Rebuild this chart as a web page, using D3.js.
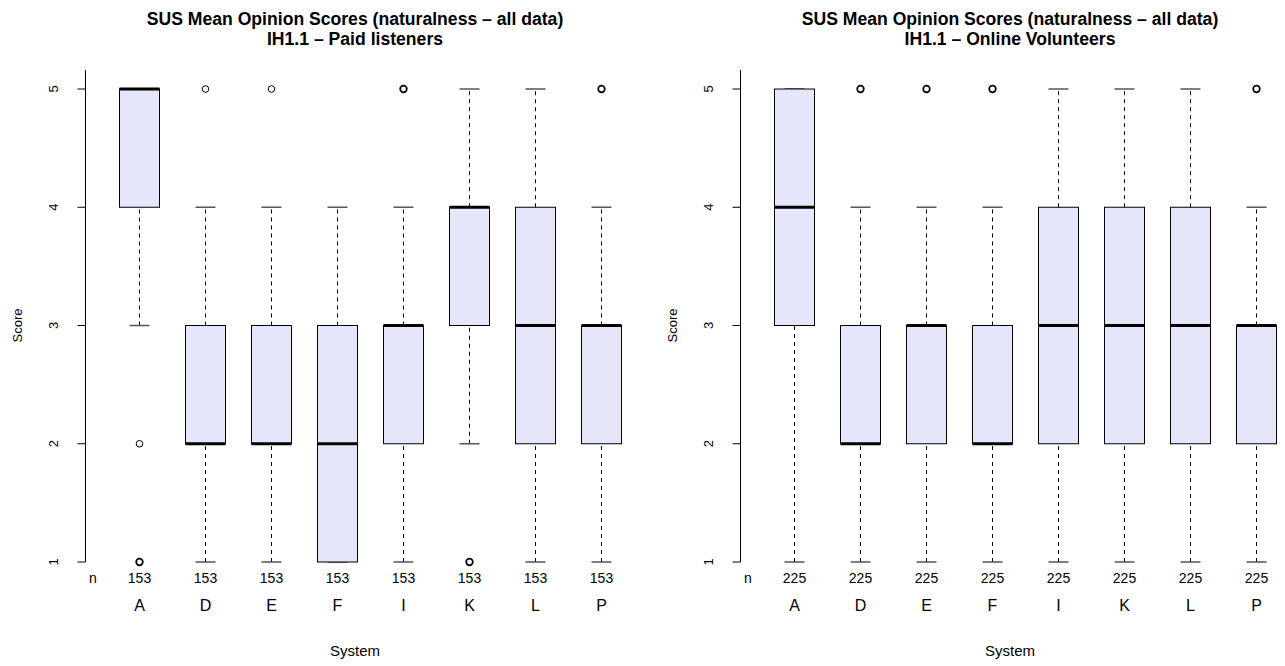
<!DOCTYPE html>
<html>
<head>
<meta charset="utf-8">
<script src="https://cdn.jsdelivr.net/npm/d3@7"></script>
<style>
  body { margin: 0; background: #fff; }
  text { font-family: "Liberation Sans", Arial, Helvetica, sans-serif; fill: #000; }
</style>
</head>
<body>
<script>
// ! Chart data
const systems = ["A", "D", "E", "F", "I", "K", "L", "P"];
const yTicks = [1, 2, 3, 4, 5];
const titleLine1 = "SUS Mean Opinion Scores (naturalness \u2013 all data)";

// paid listeners: [lowWhisker, q1, median, q3, highWhisker]
const paidTitle = "IH1.1 \u2013 Paid listeners";
const paidN = [153, 153, 153, 153, 153, 153, 153, 153];
const paidStats = [
  [3, 4, 5, 5, 5],
  [1, 2, 2, 3, 4],
  [1, 2, 2, 3, 4],
  [1, 1, 2, 3, 4],
  [1, 2, 3, 3, 4],
  [2, 3, 4, 4, 5],
  [1, 2, 3, 4, 5],
  [1, 2, 3, 3, 4]
];
// outliers: [system, value, count]
const paidOutliers = [
  ["A", 2, 1], ["A", 1, 3], ["D", 5, 1], ["E", 5, 1],
  ["I", 5, 3], ["K", 1, 3], ["P", 5, 3]
];

const volTitle = "IH1.1 \u2013 Online Volunteers";
const volN = [225, 225, 225, 225, 225, 225, 225, 225];
const volStats = [
  [1, 3, 4, 5, 5],
  [1, 2, 2, 3, 4],
  [1, 2, 3, 3, 4],
  [1, 2, 2, 3, 4],
  [1, 2, 3, 4, 5],
  [1, 2, 3, 4, 5],
  [1, 2, 3, 4, 5],
  [1, 2, 3, 3, 4]
];
const volOutliers = [
  ["D", 5, 3], ["E", 5, 3], ["F", 5, 3], ["P", 5, 3]
];

// ! SVG
const width = 1285;
const height = 666;
const svg = d3.select("body").append("svg")
  .attr("width", width)
  .attr("height", height);

const yScale = d3.scaleLinear().domain([1, 5]).range([562, 89]);

const drawPanel = (offset, subtitle, stats, counts, outliers) => {
  const g = svg.append("g").attr("transform", `translate(${offset}, 0)`);
  const xScale = d3.scalePoint().domain(systems).range([139.5, 601.5]);
  const boxW = 40;
  const capW = 20;
  const axisX = 85.5;

  // titles
  g.append("text").attr("x", 355).attr("y", 25)
    .attr("text-anchor", "middle").attr("font-weight", "bold")
    .attr("font-size", 17.6).text(titleLine1);
  g.append("text").attr("x", 355).attr("y", 45)
    .attr("text-anchor", "middle").attr("font-weight", "bold")
    .attr("font-size", 17.6).text(subtitle);

  // y axis
  g.append("line").attr("x1", axisX).attr("x2", axisX)
    .attr("y1", 70).attr("y2", yScale(1))
    .attr("stroke", "#000").attr("stroke-width", 1);
  g.selectAll(".ytick").data(yTicks).enter().append("line")
    .attr("x1", axisX - 8).attr("x2", axisX)
    .attr("y1", (d) => yScale(d)).attr("y2", (d) => yScale(d))
    .attr("stroke", "#000");
  g.selectAll(".ylab").data(yTicks).enter().append("text")
    .attr("transform", (d) => `translate(58, ${yScale(d)}) rotate(-90)`)
    .attr("text-anchor", "middle").attr("font-size", 13).text((d) => d);
  g.append("text")
    .attr("transform", `translate(22, ${yScale(3)}) rotate(-90)`)
    .attr("text-anchor", "middle").attr("font-size", 13).text("Score");

  // boxes
  const boxes = g.selectAll(".box").data(stats).enter().append("g")
    .attr("transform", (d, i) => `translate(${xScale(systems[i])}, 0)`);
  boxes.append("line")
    .attr("y1", (d) => yScale(d[0])).attr("y2", (d) => yScale(d[1]))
    .attr("stroke", "#000").attr("stroke-dasharray", "4,4");
  boxes.append("line")
    .attr("y1", (d) => yScale(d[3])).attr("y2", (d) => yScale(d[4]))
    .attr("stroke", "#000").attr("stroke-dasharray", "4,4");
  boxes.append("line")
    .attr("x1", -capW / 2).attr("x2", capW / 2)
    .attr("y1", (d) => yScale(d[0])).attr("y2", (d) => yScale(d[0]))
    .attr("stroke", "#555").attr("stroke-width", 1.5);
  boxes.append("line")
    .attr("x1", -capW / 2).attr("x2", capW / 2)
    .attr("y1", (d) => yScale(d[4])).attr("y2", (d) => yScale(d[4]))
    .attr("stroke", "#555").attr("stroke-width", 1.5);
  boxes.append("rect")
    .attr("x", -boxW / 2).attr("width", boxW)
    .attr("y", (d) => yScale(d[3]))
    .attr("height", (d) => yScale(d[1]) - yScale(d[3]))
    .attr("fill", "#E6E6FA").attr("stroke", "#000");
  boxes.append("line")
    .attr("x1", -boxW / 2).attr("x2", boxW / 2)
    .attr("y1", (d) => yScale(d[2])).attr("y2", (d) => yScale(d[2]))
    .attr("stroke", "#000").attr("stroke-width", 3);

  // outliers
  g.selectAll(".out").data(outliers).enter().append("circle")
    .attr("cx", (d) => xScale(d[0])).attr("cy", (d) => yScale(d[1]))
    .attr("r", 3.3).attr("fill", "none").attr("stroke", "#000")
    .attr("stroke-width", (d) => (d[2] > 1 ? 1.7 : 1));

  // n row and category labels
  g.append("text").attr("x", 93).attr("y", 583)
    .attr("text-anchor", "middle").attr("font-size", 14).text("n");
  g.selectAll(".nlab").data(counts).enter().append("text")
    .attr("x", (d, i) => xScale(systems[i])).attr("y", 583)
    .attr("text-anchor", "middle").attr("font-size", 14).text((d) => d);
  g.selectAll(".cat").data(systems).enter().append("text")
    .attr("x", (d) => xScale(d)).attr("y", 611)
    .attr("text-anchor", "middle").attr("font-size", 16).text((d) => d);
  g.append("text").attr("x", 355).attr("y", 656)
    .attr("text-anchor", "middle").attr("font-size", 15).text("System");
};

drawPanel(0, paidTitle, paidStats, paidN, paidOutliers);
drawPanel(655, volTitle, volStats, volN, volOutliers);
</script>
</body>
</html>
